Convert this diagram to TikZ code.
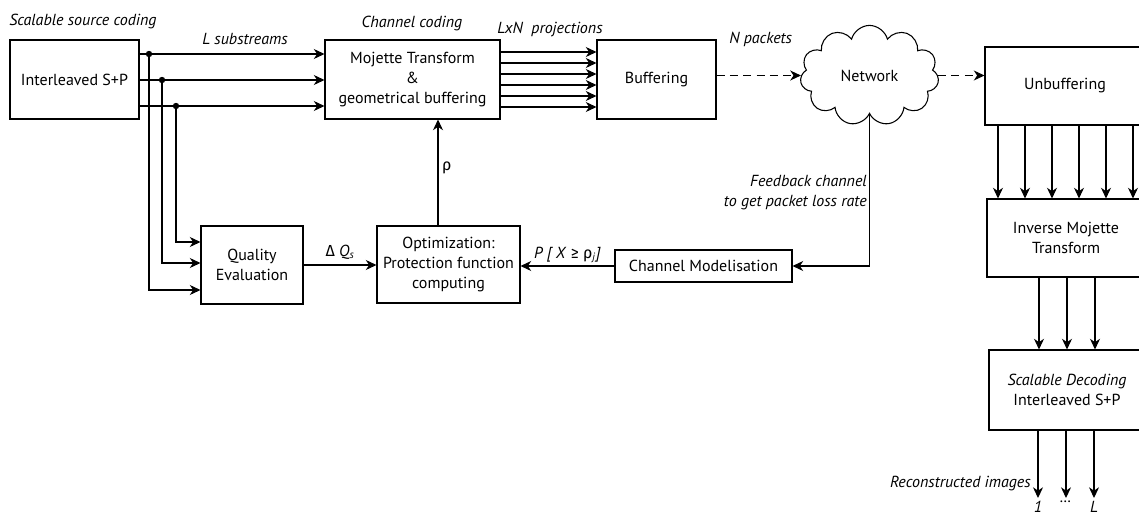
\documentclass[tikz,border=0pt]{standalone}
\usepackage{fontspec}
\setmainfont{PT Sans}
\newfontfamily\grk{Fira Sans}
\usetikzlibrary{arrows.meta,shapes.symbols,calc}

\tikzset{
  blk/.style={draw, line width=0.8pt, align=center, inner sep=1pt, font=\fontsize{12}{15}\selectfont},
  lbl/.style={inner sep=0.75pt, font=\fontsize{12}{15}\selectfont\itshape},
  flow/.style={line width=0.8pt, -{Stealth[length=8pt,width=7.5pt,inset=2.5pt]}},
  pkt/.style={flow, dash pattern=on 6pt off 4pt},
}

\begin{document}
\begin{tikzpicture}[x=0.75pt,y=0.75pt,yscale=-1,xscale=1]
\useasboundingbox (0,0) rectangle (1139,521);

% Blocks
\node[blk, minimum width=96.75pt, minimum height=59.25pt] (src) at (74.5,79.5) {Interleaved S+P};
\node[blk, minimum width=131.25pt, minimum height=59.25pt] (mojette) at (412.5,79.5) {Mojette Transform\\\&\\geometrical buffering};
\node[blk, minimum width=89.25pt, minimum height=59.25pt] (buff) at (656.5,79.5) {Buffering};
\node[cloud, draw, cloud puffs=11, line width=0.8pt, inner sep=1pt, minimum width=104pt, minimum height=48pt, font=\fontsize{12}{15}\selectfont] (net) at (869.5,75.5) {Network};
\node[blk, minimum width=120pt, minimum height=58.5pt] (unbuf) at (1065,86) {Unbuffering};
\node[blk, minimum width=118.5pt, minimum height=58.5pt] (inv) at (1066,238) {Inverse Mojette\\Transform};
\node[blk, minimum width=117pt, minimum height=60pt] (dec) at (1067,390) {\textit{Scalable Decoding}\\Interleaved S+P};
\node[blk, minimum width=76.5pt, minimum height=58.5pt] (qual) at (252,265) {Quality\\Evaluation};
\node[blk, minimum width=107.25pt, minimum height=57.75pt] (opt) at (448.5,264.5) {Optimization:\\Protection function\\computing};
\node[blk, minimum width=132.75pt, minimum height=24pt] (chan) at (703.5,266) {Channel Modelisation};

% Labels
\node[lbl, anchor=west] (srclbl) at (8,22) {Scalable source coding};
\node[lbl] (sublbl) at (245,39) {L substreams};
\node[lbl] (chlbl) at (412,23) {Channel coding};
\node[lbl] (prjlbl) at (550,29) {LxN\ \ projections};
\node[lbl, anchor=west] (pktlbl) at (728,39) {N packets};
\node[lbl, anchor=east, align=right] (fblbl) at (868,193) {Feedback channel\\to get packet loss rate};
\node[lbl, anchor=east] (reclbl) at (1032,484) {Reconstructed images};

% Substreams and their branches
\foreach \y in {54,80,106}
  \draw[flow] (src.east |- 0,\y) -- (mojette.west |- 0,\y);
\coordinate (j1) at (149,54);
\coordinate (j2) at (162,80);
\coordinate (j3) at (176,106);
\foreach \j in {j1,j2,j3}
  \fill (\j) circle (2.4pt);
\draw[flow] (j1) |- (qual.west |- 0,290);
\draw[flow] (j2) |- (qual.west |- 0,263);
\draw[flow] (j3) |- (qual.west |- 0,242);

% Projections
\foreach \y in {52,63,74,85,96,107}
  \draw[flow] (mojette.east |- 0,\y) -- (buff.west |- 0,\y);

% Network
\draw[pkt] (buff.east |- net.west) -- (net.west);
\draw[pkt] (net.east) -- (unbuf.west |- net.east);
\draw[flow] (net.south) |- (chan.east);

% Feedback loop
\draw[flow] (chan.west) -- (opt.east |- chan.west)
  node[midway, above=1pt, inner sep=0.75pt, font=\fontsize{12}{15}\selectfont] (pjlbl) {\textit{P [ X} {\grk ≥ ρ}\textsubscript{\textit{j}}\textit{]}};
\draw[flow] (qual.east) -- (opt.west |- qual.east)
  node[midway, above=3pt, inner sep=0.75pt, font=\fontsize{12}{15}\selectfont] (dqlbl) {{\grk Δ} \textit{Q}\textsubscript{\textit{s}}};
\draw[flow] (opt.north -| 438,0) -- (mojette.south -| 438,0)
  node[pos=0.54, right=2pt, inner sep=0.75pt, font=\fontsize{12}{15}\selectfont\grk] (rholbl) {ρ};

% Receiver side
\foreach \x in {998,1025,1052,1079,1106,1133}
  \draw[flow] (unbuf.south -| \x,0) -- (inv.north -| \x,0);
\foreach \x in {1039,1067,1095}
  \draw[flow] (inv.south -| \x,0) -- (dec.north -| \x,0);
\foreach \x/\t [count=\i] in {1038/1,1066/{\ldots},1094/L} {
  \coordinate (out\i) at (\x,498);
  \draw[flow] (dec.south -| out\i) -- (out\i);
  \node[lbl, anchor=north, inner sep=0pt] (img\i) at ($(out\i)+(0,3)$) {\t};
}

\end{tikzpicture}
\end{document}
